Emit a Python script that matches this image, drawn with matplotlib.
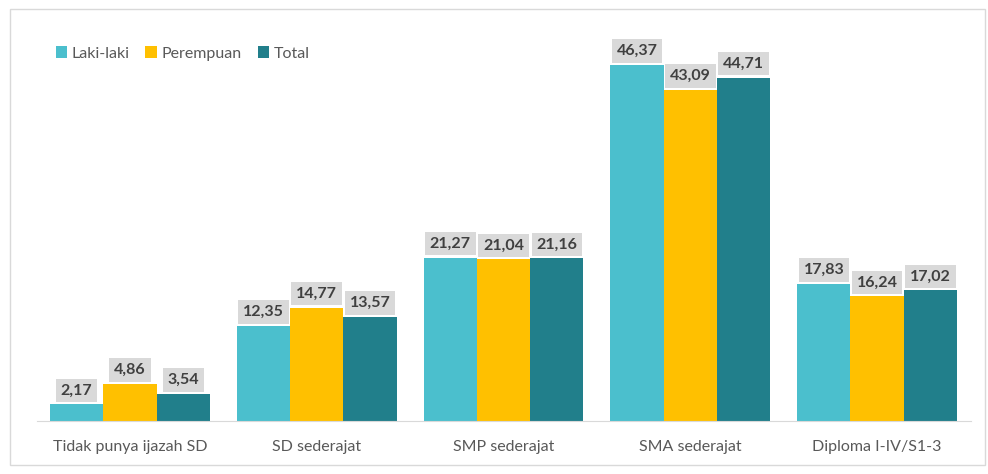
import matplotlib
matplotlib.use("Agg")
import matplotlib.pyplot as plt
import numpy as np
from matplotlib.patches import Rectangle

categories = ["Tidak punya ijazah SD", "SD sederajat", "SMP sederajat", "SMA sederajat", "Diploma I-IV/S1-3"]
series_names = ["Laki-laki", "Perempuan", "Total"]
laki = [2.17, 12.35, 21.27, 46.37, 17.83]
perempuan = [4.86, 14.77, 21.04, 43.09, 16.24]
total = [3.54, 13.57, 21.16, 44.71, 17.02]
colors = ["#4BBFCD", "#FFC000", "#217F8B"]

plt.rcParams['font.family'] = ['Lato', 'DejaVu Sans']

fig = plt.figure(figsize=(9.88, 4.74), dpi=100)
fig.patches.append(Rectangle((10/988, 9/474), 975/988, 456/474, transform=fig.transFigure,
                             fill=False, edgecolor="#d9d9d9", linewidth=1.0))
ax = fig.add_axes([36.5/988, 53/474, 934/988, 401/474])

x = np.arange(len(categories))
w = 0.285
data = [laki, perempuan, total]
for i, (vals, name, c) in enumerate(zip(data, series_names, colors)):
    bars = ax.bar(x + (i - 1) * w, vals, width=w, color=c, label=name, linewidth=0)
    for b, v in zip(bars, vals):
        ax.text(b.get_x() + b.get_width() / 2, v + 0.9, f"{v:.2f}".replace(".", ","),
                ha="center", va="bottom", fontsize=11.5, fontweight="bold", color="#404040",
                bbox=dict(boxstyle="square,pad=0.3", facecolor="#d9d9d9", edgecolor="none"))

ax.set_xlim(-0.5, len(categories) - 0.5)
ax.set_ylim(0, 52.2)
ax.set_xticks(x)
ax.set_xticklabels(categories, fontsize=11.5, color="#595959")
ax.tick_params(axis="x", length=0, pad=14)
ax.set_yticks([])
for s in ["top", "right", "left"]:
    ax.spines[s].set_visible(False)
ax.spines["bottom"].set_color("#d9d9d9")

leg = ax.legend(loc="upper left", bbox_to_anchor=(0.005, 0.97), ncol=3, frameon=False,
                fontsize=11.5, handlelength=0.7, handleheight=0.7, handletextpad=0.3,
                columnspacing=1.0, labelcolor="#595959")

fig.savefig("out.png", dpi=100, facecolor="white")
